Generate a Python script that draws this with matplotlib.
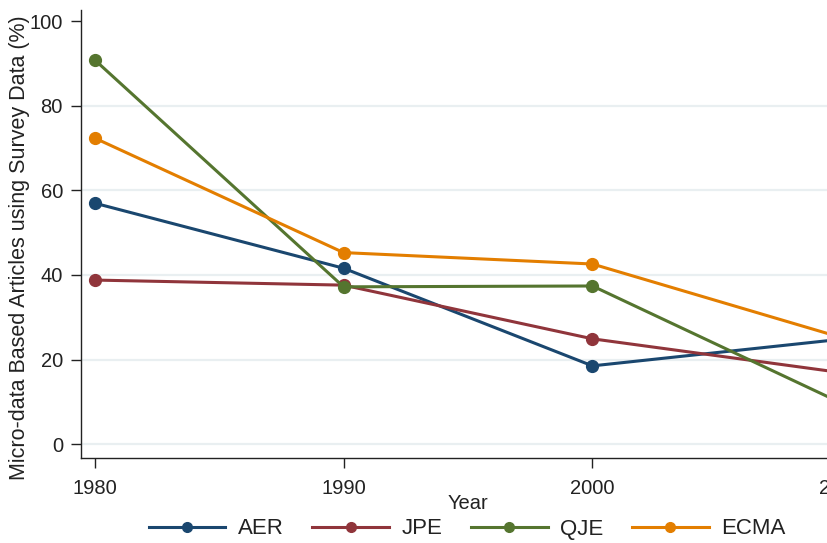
import matplotlib
matplotlib.use("Agg")
import matplotlib.pyplot as plt

years = [1980, 1990, 2000, 2010]
aer = [57.0, 41.6, 18.5, 24.8]
jpe = [38.8, 37.6, 24.9, 16.9]
qje = [90.9, 37.2, 37.4, 9.7]
ecma = [72.4, 45.3, 42.6, 25.2]
series_names = ["AER", "JPE", "QJE", "ECMA"]
colors = ["#1a476f", "#90353b", "#55752f", "#e37e00"]
yticks = [0, 20, 40, 60, 80, 100]
xticks = [1980, 1990, 2000, 2010]

plt.rcParams['font.family'] = ['Liberation Sans', 'DejaVu Sans']

fig = plt.figure(figsize=(8.28, 5.43), dpi=100)
W, H = 828, 543
left_px, right_px, top_px, bot_px = 81, 855, 10, 458
ax = fig.add_axes([left_px / W, 1 - bot_px / H, (right_px - left_px) / W, (bot_px - top_px) / H])

for yv in yticks[:-1]:
    ax.axhline(yv, color="#e9eff1", lw=1.6, zorder=0)

for vals, name, c in zip([aer, jpe, qje, ecma], series_names, colors):
    ax.plot(years, vals, color=c, lw=2.2, marker='o', markersize=8.5, label=name)

ax.set_xlim(1979.45, 2010.55)
ax.set_ylim(-3.3, 102.7)
ax.set_xticks(xticks)
ax.set_yticks(yticks)
ax.spines['top'].set_visible(False)
ax.spines['right'].set_visible(False)
for s in ['left', 'bottom']:
    ax.spines[s].set_color('#222222')
    ax.spines[s].set_linewidth(1.0)
ax.tick_params(axis='both', direction='out', length=7, width=1.0, color='#222222',
               labelsize=14.5, labelcolor='#222222')
ax.tick_params(axis='x', pad=8)
ax.tick_params(axis='y', pad=6)

ax.set_xlabel("Year", fontsize=14.5, color='#222222')
ax.xaxis.label.set_va('baseline')
ax.xaxis.set_label_coords(0.5, (bot_px - 509) / (bot_px - top_px))

ax.set_ylabel("Micro-data Based Articles using Survey Data (%)", fontsize=15.5, color='#222222')
ax.yaxis.label.set_va('center')
ax.yaxis.set_label_coords((20 - left_px) / (right_px - left_px), (bot_px - 247.5) / (bot_px - top_px))

leg = fig.legend(loc='center', bbox_to_anchor=(467 / W, 1 - 529 / H), ncol=4, frameon=False,
                 fontsize=16, handlelength=3.45, handletextpad=0.55, columnspacing=1.3,
                 borderpad=0, borderaxespad=0)
for h in leg.legend_handles:
    h.set_markersize(7)
for t in leg.get_texts():
    t.set_color('#222222')

fig.savefig("out.png", dpi=100)
